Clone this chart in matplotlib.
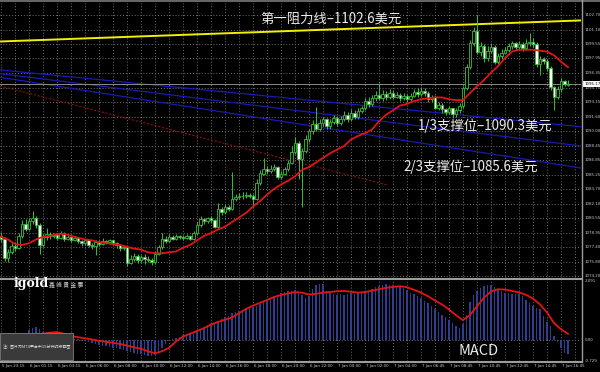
import matplotlib
matplotlib.use('Agg')
import matplotlib.pyplot as plt
from matplotlib.lines import Line2D
from matplotlib.patches import Rectangle
import numpy as np

plt.rcParams['font.family'] = ['Noto Sans CJK SC', 'DejaVu Sans']

# 15 minute gold bars (price units)
opens = [1078.6, 1078.3, 1076.2, 1076.8, 1077.5, 1077.3, 1078.6, 1079.9, 1079.4, 1080.2,
         1080.6, 1079.8, 1077.6, 1078.5, 1078.8, 1078.6, 1078.7, 1078.4, 1078.9, 1078.3,
         1078.5, 1078.2, 1078.4, 1078.0, 1077.8, 1078.1, 1077.6, 1077.5, 1077.9, 1077.7,
         1078.0, 1077.9, 1078.1, 1077.8, 1077.6, 1077.3, 1077.4, 1075.6, 1076.1, 1076.4,
         1076.0, 1076.3, 1076.1, 1076.0, 1075.7, 1076.6, 1077.4, 1078.3, 1078.0, 1078.5,
         1078.3, 1078.6, 1078.5, 1078.4, 1078.6, 1078.3, 1078.9, 1079.8, 1080.4, 1080.2,
         1080.5, 1080.3, 1079.6, 1081.5, 1081.2, 1081.8, 1081.5, 1082.6, 1082.8, 1083.0,
         1082.9, 1083.1, 1083.0, 1082.6, 1084.4, 1085.4, 1085.9, 1085.7, 1085.9, 1086.1,
         1085.0, 1085.4, 1085.9, 1086.6, 1087.8, 1088.7, 1087.0, 1087.9, 1089.2, 1090.0,
         1090.8, 1090.3, 1090.9, 1091.3, 1090.6, 1091.0, 1091.5, 1090.9, 1091.4, 1091.8,
         1091.3, 1092.0, 1091.6, 1092.2, 1092.5, 1093.3, 1093.0, 1093.6, 1094.0, 1093.6,
         1094.1, 1093.7, 1094.2, 1093.8, 1094.0, 1093.6, 1093.9, 1093.5, 1093.9, 1094.3,
         1094.1, 1094.4, 1094.2, 1093.5, 1093.8, 1092.6, 1092.9, 1092.4, 1092.1, 1092.5,
         1091.9, 1092.3, 1092.8, 1094.7, 1097.0, 1099.6, 1100.9, 1098.7, 1099.3, 1098.0,
         1098.8, 1099.2, 1097.6, 1098.2, 1098.6, 1098.9, 1099.3, 1099.6, 1099.2, 1099.5,
         1099.1, 1099.6, 1099.8, 1099.5, 1097.3, 1097.9, 1097.7, 1096.9, 1094.8, 1093.8,
         1094.6, 1095.5, 1095.1]
highs = [1079.0, 1078.5, 1077.2, 1077.8, 1077.9, 1078.9, 1080.3, 1080.4, 1080.6, 1081.3,
         1080.8, 1080.0, 1078.8, 1079.5, 1079.0, 1078.9, 1078.9, 1079.1, 1079.0, 1078.8,
         1078.7, 1078.6, 1078.5, 1078.2, 1078.3, 1078.2, 1077.8, 1078.1, 1078.1, 1078.4,
         1078.2, 1078.3, 1078.2, 1077.9, 1077.7, 1077.6, 1077.5, 1076.5, 1076.7, 1076.6,
         1076.5, 1076.6, 1076.4, 1076.2, 1076.9, 1077.6, 1078.9, 1078.6, 1078.8, 1078.7,
         1078.8, 1078.7, 1078.7, 1078.8, 1078.7, 1079.1, 1080.1, 1080.8, 1080.6, 1080.7,
         1080.8, 1080.4, 1082.2, 1081.8, 1082.1, 1082.0, 1085.6, 1083.2, 1083.3, 1083.4,
         1083.4, 1083.3, 1083.2, 1084.8, 1085.8, 1087.1, 1086.2, 1086.3, 1086.4, 1086.2,
         1085.7, 1086.1, 1086.9, 1088.4, 1089.4, 1088.9, 1088.2, 1089.6, 1090.3, 1091.2,
         1092.7, 1091.3, 1091.6, 1091.5, 1091.4, 1091.8, 1091.7, 1091.7, 1092.2, 1092.1,
         1092.4, 1092.3, 1092.5, 1092.8, 1093.6, 1093.7, 1094.0, 1094.4, 1095.3, 1094.5,
         1094.4, 1094.6, 1094.5, 1094.3, 1094.2, 1094.2, 1094.1, 1094.2, 1094.6, 1094.7,
         1094.8, 1094.7, 1094.4, 1094.0, 1094.0, 1093.2, 1093.1, 1092.6, 1092.8, 1092.6,
         1092.6, 1093.1, 1095.0, 1097.3, 1100.0, 1101.4, 1102.7, 1099.7, 1099.5, 1099.3,
         1099.6, 1099.4, 1098.5, 1099.0, 1099.2, 1099.6, 1099.9, 1099.8, 1099.9, 1099.8,
         1100.1, 1100.7, 1100.2, 1099.7, 1098.2, 1098.1, 1097.9, 1097.1, 1095.0, 1095.0,
         1095.8, 1095.6, 1095.6]
lows = [1077.9, 1075.9, 1075.8, 1076.6, 1076.9, 1077.2, 1078.4, 1079.1, 1079.2, 1079.9,
        1079.5, 1076.6, 1077.4, 1078.2, 1078.3, 1078.4, 1078.2, 1078.3, 1078.0, 1078.1,
        1077.9, 1078.0, 1077.8, 1077.5, 1077.6, 1077.4, 1077.2, 1076.5, 1077.5, 1077.6,
        1077.7, 1077.7, 1077.6, 1077.3, 1077.0, 1077.1, 1075.3, 1075.5, 1075.9, 1075.6,
        1075.8, 1075.5, 1075.8, 1075.4, 1075.5, 1076.5, 1077.2, 1077.8, 1077.9, 1078.1,
        1078.2, 1078.3, 1078.2, 1078.3, 1078.1, 1078.2, 1078.7, 1079.6, 1079.9, 1080.0,
        1080.0, 1079.5, 1079.5, 1080.9, 1081.0, 1081.3, 1081.4, 1082.4, 1082.6, 1082.6,
        1082.7, 1082.7, 1081.8, 1082.5, 1084.2, 1085.2, 1085.4, 1085.5, 1085.7, 1084.8,
        1084.8, 1085.2, 1085.7, 1086.4, 1087.5, 1084.8, 1081.7, 1087.6, 1088.8, 1089.7,
        1090.0, 1090.0, 1090.6, 1090.3, 1090.3, 1090.8, 1090.6, 1090.7, 1091.1, 1091.0,
        1091.1, 1091.3, 1091.4, 1092.0, 1092.3, 1092.7, 1092.8, 1093.3, 1093.4, 1093.3,
        1093.4, 1093.5, 1093.5, 1093.6, 1093.3, 1093.4, 1093.2, 1093.3, 1093.7, 1093.8,
        1093.9, 1093.9, 1093.2, 1093.2, 1092.4, 1092.3, 1092.0, 1091.8, 1091.9, 1091.5,
        1091.6, 1092.0, 1092.6, 1094.5, 1096.8, 1099.3, 1098.4, 1098.2, 1097.6, 1097.7,
        1098.5, 1097.3, 1097.4, 1097.9, 1098.4, 1098.7, 1099.0, 1098.9, 1099.0, 1098.8,
        1098.9, 1099.3, 1099.2, 1097.0, 1096.1, 1097.3, 1096.6, 1094.5, 1092.3, 1093.5,
        1094.3, 1094.9, 1095.0]
closes = [1078.3, 1076.2, 1076.8, 1077.5, 1077.3, 1078.6, 1079.9, 1079.4, 1080.2, 1080.6,
          1079.8, 1077.6, 1078.5, 1078.8, 1078.6, 1078.7, 1078.4, 1078.9, 1078.3, 1078.5,
          1078.2, 1078.4, 1078.0, 1077.8, 1078.1, 1077.6, 1077.5, 1077.9, 1077.7, 1078.0,
          1077.9, 1078.1, 1077.8, 1077.6, 1077.3, 1077.4, 1075.6, 1076.1, 1076.4, 1076.0,
          1076.3, 1076.1, 1076.0, 1075.7, 1076.6, 1077.4, 1078.3, 1078.0, 1078.5, 1078.3,
          1078.6, 1078.5, 1078.4, 1078.6, 1078.3, 1078.9, 1079.8, 1080.4, 1080.2, 1080.5,
          1080.3, 1079.6, 1081.5, 1081.2, 1081.8, 1081.5, 1082.6, 1082.8, 1083.0, 1082.9,
          1083.1, 1083.0, 1082.6, 1084.4, 1085.4, 1085.9, 1085.7, 1085.9, 1086.1, 1085.0,
          1085.4, 1085.9, 1086.6, 1087.8, 1088.7, 1087.0, 1087.9, 1089.2, 1090.0, 1090.8,
          1090.3, 1090.9, 1091.3, 1090.6, 1091.0, 1091.5, 1090.9, 1091.4, 1091.8, 1091.3,
          1092.0, 1091.6, 1092.2, 1092.5, 1093.3, 1093.0, 1093.6, 1094.0, 1093.6, 1094.1,
          1093.7, 1094.2, 1093.8, 1094.0, 1093.6, 1093.9, 1093.5, 1093.9, 1094.3, 1094.1,
          1094.4, 1094.2, 1093.5, 1093.8, 1092.6, 1092.9, 1092.4, 1092.1, 1092.5, 1091.9,
          1092.3, 1092.8, 1094.7, 1097.0, 1099.6, 1100.9, 1098.7, 1099.3, 1098.0, 1098.8,
          1099.2, 1097.6, 1098.2, 1098.6, 1098.9, 1099.3, 1099.6, 1099.2, 1099.5, 1099.1,
          1099.6, 1099.8, 1099.5, 1097.3, 1097.9, 1097.7, 1096.9, 1094.8, 1093.8, 1094.6,
          1095.5, 1095.2, 1095.2]

# moving average (red), sampled every second bar
ma_line = [1078.5, 1078.2, 1077.7, 1077.6, 1077.8, 1078.2, 1078.5, 1078.6, 1078.8, 1078.8,
           1078.6, 1078.4, 1078.2, 1078.1, 1077.9, 1077.8, 1077.7, 1077.6, 1077.4, 1077.2,
           1077.1, 1076.8, 1076.7, 1076.7, 1076.8, 1076.9, 1077.3, 1077.6, 1078.1, 1078.6,
           1078.9, 1079.3, 1079.6, 1080.1, 1080.6, 1081.1, 1081.8, 1082.4, 1083.1, 1083.7,
           1084.2, 1084.6, 1085.1, 1085.8, 1086.1, 1086.6, 1087.1, 1087.6, 1088.0, 1088.4,
           1089.1, 1089.5, 1089.8, 1090.2, 1091.1, 1091.8, 1092.3, 1092.8, 1093.0, 1093.3,
           1093.5, 1093.6, 1093.7, 1093.7, 1093.5, 1093.4, 1093.4, 1094.2, 1094.9, 1095.6,
           1096.4, 1097.1, 1098.0, 1098.7, 1098.9, 1098.9, 1098.9, 1098.8, 1098.7, 1098.3,
           1097.6, 1097.0]

# MACD histogram (one per bar) and signal line (every second bar)
macd_hist = [0.05, 0.0, -0.08, -0.1, -0.05, 0.05, 0.15, 0.25, 0.35, 0.42,
             0.46, 0.38, 0.3, 0.28, 0.25, 0.22, 0.18, 0.15, 0.12, 0.1,
             0.08, 0.05, 0.03, -0.02, -0.05, -0.08, -0.12, -0.15, -0.18, -0.2,
             -0.22, -0.25, -0.28, -0.3, -0.32, -0.36, -0.4, -0.43, -0.46, -0.48,
             -0.5, -0.53, -0.55, -0.55, -0.52, -0.42, -0.3, -0.15, -0.05, 0.03,
             0.08, 0.12, 0.16, 0.2, 0.22, 0.25, 0.3, 0.38, 0.45, 0.52,
             0.58, 0.6, 0.68, 0.75, 0.8, 0.86, 0.95, 1.0, 1.02, 1.05,
             1.1, 1.15, 1.18, 1.22, 1.28, 1.35, 1.42, 1.5, 1.55, 1.6,
             1.65, 1.7, 1.72, 1.75, 1.76, 1.7, 1.6, 1.5, 1.55, 1.8,
             1.95, 2.0, 1.98, 1.75, 1.68, 1.62, 1.6, 1.62, 1.6, 1.62,
             1.65, 1.63, 1.66, 1.7, 1.72, 1.75, 1.82, 1.88, 1.92, 1.95,
             1.98, 1.96, 1.94, 1.92, 1.9, 1.85, 1.78, 1.68, 1.62, 1.55,
             1.48, 1.4, 1.3, 1.22, 1.1, 0.98, 0.88, 0.8, 0.72, 0.62,
             0.5, 0.42, 0.55, 0.9, 1.35, 1.6, 1.75, 1.85, 1.9, 1.95,
             1.95, 1.88, 1.78, 1.72, 1.68, 1.65, 1.63, 1.64, 1.62, 1.55,
             1.42, 1.3, 1.22, 1.15, 1.1, 0.85, 0.65, 0.5, 0.15, -0.08,
             -0.3, -0.45, -0.5]
macd_signal = [0.12, 0.12, 0.13, 0.14, 0.16, 0.18, 0.22, 0.26, 0.28, 0.22,
               0.14, 0.1, 0.06, 0.02, -0.03, -0.06, -0.1, -0.14, -0.2, -0.26,
               -0.31, -0.4, -0.47, -0.4, -0.28, -0.05, 0.12, 0.22, 0.32, 0.42,
               0.55, 0.64, 0.72, 0.8, 0.95, 1.1, 1.22, 1.32, 1.42, 1.52,
               1.6, 1.65, 1.7, 1.68, 1.61, 1.64, 1.68, 1.7, 1.73, 1.74,
               1.71, 1.68, 1.7, 1.75, 1.8, 1.85, 1.88, 1.91, 1.87, 1.78,
               1.68, 1.55, 1.4, 1.26, 1.08, 0.88, 0.7, 0.89, 1.2, 1.5,
               1.72, 1.8, 1.79, 1.74, 1.69, 1.6, 1.47, 1.26, 0.98, 0.6,
               0.38, 0.22]

time_labels = ['5 Jan 23:15', '6 Jan 01:15', '6 Jan 03:15', '6 Jan 06:00', '6 Jan 08:00',
               '6 Jan 10:00', '6 Jan 12:00', '6 Jan 14:00', '6 Jan 16:00', '6 Jan 18:00',
               '6 Jan 20:00', '6 Jan 22:00', '7 Jan 00:00', '7 Jan 02:00', '7 Jan 04:00',
               '7 Jan 06:45', '7 Jan 08:45', '7 Jan 10:45', '7 Jan 12:45', '7 Jan 14:45',
               '7 Jan 16:45']
price_ticks = [1102.70, 1101.10, 1099.55, 1097.95, 1096.35, 1094.75, 1093.15, 1091.60,
               1090.00, 1088.45, 1086.85, 1085.25, 1083.70, 1082.10, 1080.55, 1078.95,
               1077.40, 1075.80, 1074.20]
macd_ticks = [2.091, 0.0, -0.729]

# drawn objects: values at the left / right edge of the chart
resistance = [1099.8, 1102.1]
supports = [[1096.7, 1090.5], [1096.3, 1088.4], [1095.9, 1086.0]]
old_trend = [1094.95, 1084.15]   # dotted dark red, stops at bar 110
old_trend_end = 110.3
current_price = 1095.17

GREEN = '#35c235'
RED = '#e51414'
GRID = '#6e6e6e'
FRAME = '#9c9c9c'
LABEL = '#c8c8c8'

W, H = 600, 372
fig = plt.figure(figsize=(6, 3.72), dpi=100, facecolor='black')
ax = fig.add_axes([0, 1 - 278 / H, 581 / W, 275 / H], facecolor='black')
axm = fig.add_axes([0, 1 - 361 / H, 581 / W, 82 / H], facecolor='black')

n = len(closes)
xs = np.arange(n)
xmin, xmax = -1 / 3.5, 580 / 3.5
for a in (ax, axm):
    a.set_xlim(xmin, xmax)
    a.set_xticks(np.arange(0, 166, 4))
    a.tick_params(length=0, labelbottom=False, labelleft=False)
    a.grid(True, color=GRID, linestyle=(0, (1, 2)), linewidth=0.7)
    a.set_axisbelow(True)
    for s in a.spines.values():
        s.set_visible(False)

ax.set_ylim(1074.0, 1104.0)
ax.set_yticks(price_ticks)
axm.set_ylim(-0.745, 2.163)
axm.set_yticks([0])

# trend lines
ax.plot([xmin, xmax], resistance, color='#f2f000', lw=1.4, zorder=2)
for s in supports:
    ax.plot([xmin, xmax], s, color='#1a1ab4', lw=0.9, zorder=2)
ax.plot([xmin, old_trend_end], old_trend, color='#8a1010', lw=0.8, ls=(0, (2, 1.5)), zorder=2)
ax.axhline(current_price, color='#8c8c8c', lw=0.7, zorder=2)

# candles
o = np.array(opens)
c = np.array(closes)
bull = c >= o
ax.vlines(xs, lows, highs, color=GREEN, lw=0.7, zorder=3)
ax.bar(xs, np.maximum(np.abs(c - o), 0.05), bottom=np.minimum(o, c), width=0.62,
       color=np.where(bull, 'black', 'white'), edgecolor=GREEN, linewidth=0.6, zorder=4)
ax.plot(np.arange(0, 2 * len(ma_line), 2), ma_line, color=RED, lw=1.3, zorder=5)

# MACD
axm.bar(xs, macd_hist, width=0.35, color='#2f3f8f', zorder=3)
axm.plot(np.arange(0, 2 * len(macd_signal), 2), macd_signal, color=RED, lw=1.3, zorder=4)

# right scale labels
for v in price_ticks:
    ax.text(1.006, v, f'{v:.2f}', transform=ax.get_yaxis_transform(), fontsize=2.9,
            color=LABEL, va='center', ha='left', family='DejaVu Sans')
ax.text(1.006, current_price, f'{current_price:.2f}', transform=ax.get_yaxis_transform(),
        fontsize=2.9, color='black', va='center', ha='left', family='DejaVu Sans',
        bbox=dict(boxstyle='square,pad=0.25', fc='white', ec='none'), zorder=6)
for v, t in zip(macd_ticks, ['2.091', '0.00', '-0.729']):
    axm.text(1.006, v, t, transform=axm.get_yaxis_transform(), fontsize=2.9,
             color=LABEL, va='center', ha='left', family='DejaVu Sans')

# time labels
for k, t in enumerate(time_labels):
    axm.text(k * 8 + 0.3, -0.06, t, transform=axm.get_xaxis_transform(), fontsize=2.9,
             color=LABEL, va='center', ha='left', family='DejaVu Sans')

# frame lines
fig.add_artist(Line2D([0, 1], [1 - 1 / H] * 2, color='#7a7a7a', lw=1.2))
fig.add_artist(Line2D([0, 581 / W], [1 - 278.5 / H] * 2, color=FRAME, lw=1.5))
fig.add_artist(Line2D([0, 581 / W], [1 - 362 / H] * 2, color=FRAME, lw=1.5))
fig.add_artist(Line2D([581.5 / W] * 2, [1 - 362 / H, 1], color=FRAME, lw=1.0))

# annotations
TXT = '#ececec'
fig.text(260 / W, 1 - 19 / H, '第一阻力线–1102.6美元', color=TXT, fontsize=9.6, va='center', ha='left')
fig.text(418 / W, 1 - 126 / H, '1/3支撑位–1090.3美元', color=TXT, fontsize=9.6, va='center', ha='left')
fig.text(403 / W, 1 - 167 / H, '2/3支撑位–1085.6美元', color=TXT, fontsize=9.6, va='center', ha='left')
fig.text(458 / W, 1 - 351 / H, 'MACD', color=TXT, fontsize=10.5, va='center', ha='left')

# logo and note box
fig.text(14 / W, 1 - 284 / H, 'igold', color='white', fontsize=9, fontweight='bold',
         family='DejaVu Serif', va='center', ha='left')
fig.text(49 / W, 1 - 285 / H, '鑫 峰 貴 金 屬', color='#d0d0d0', fontsize=4.2,
         family=['Noto Sans CJK TC', 'DejaVu Sans'], va='center', ha='left')
fig.add_artist(Rectangle((0, 1 - 360 / H), 73 / W, 27 / H, transform=fig.transFigure,
                         facecolor='#3a3a3a', edgecolor='#808080', lw=0.6))
fig.text(3 / W, 1 - 347 / H, '注：图片为MT4平台中15分钟时段截图', color='#dddddd', fontsize=2.9,
         va='center', ha='left')

fig.savefig('out.png', dpi=100, facecolor='black')
